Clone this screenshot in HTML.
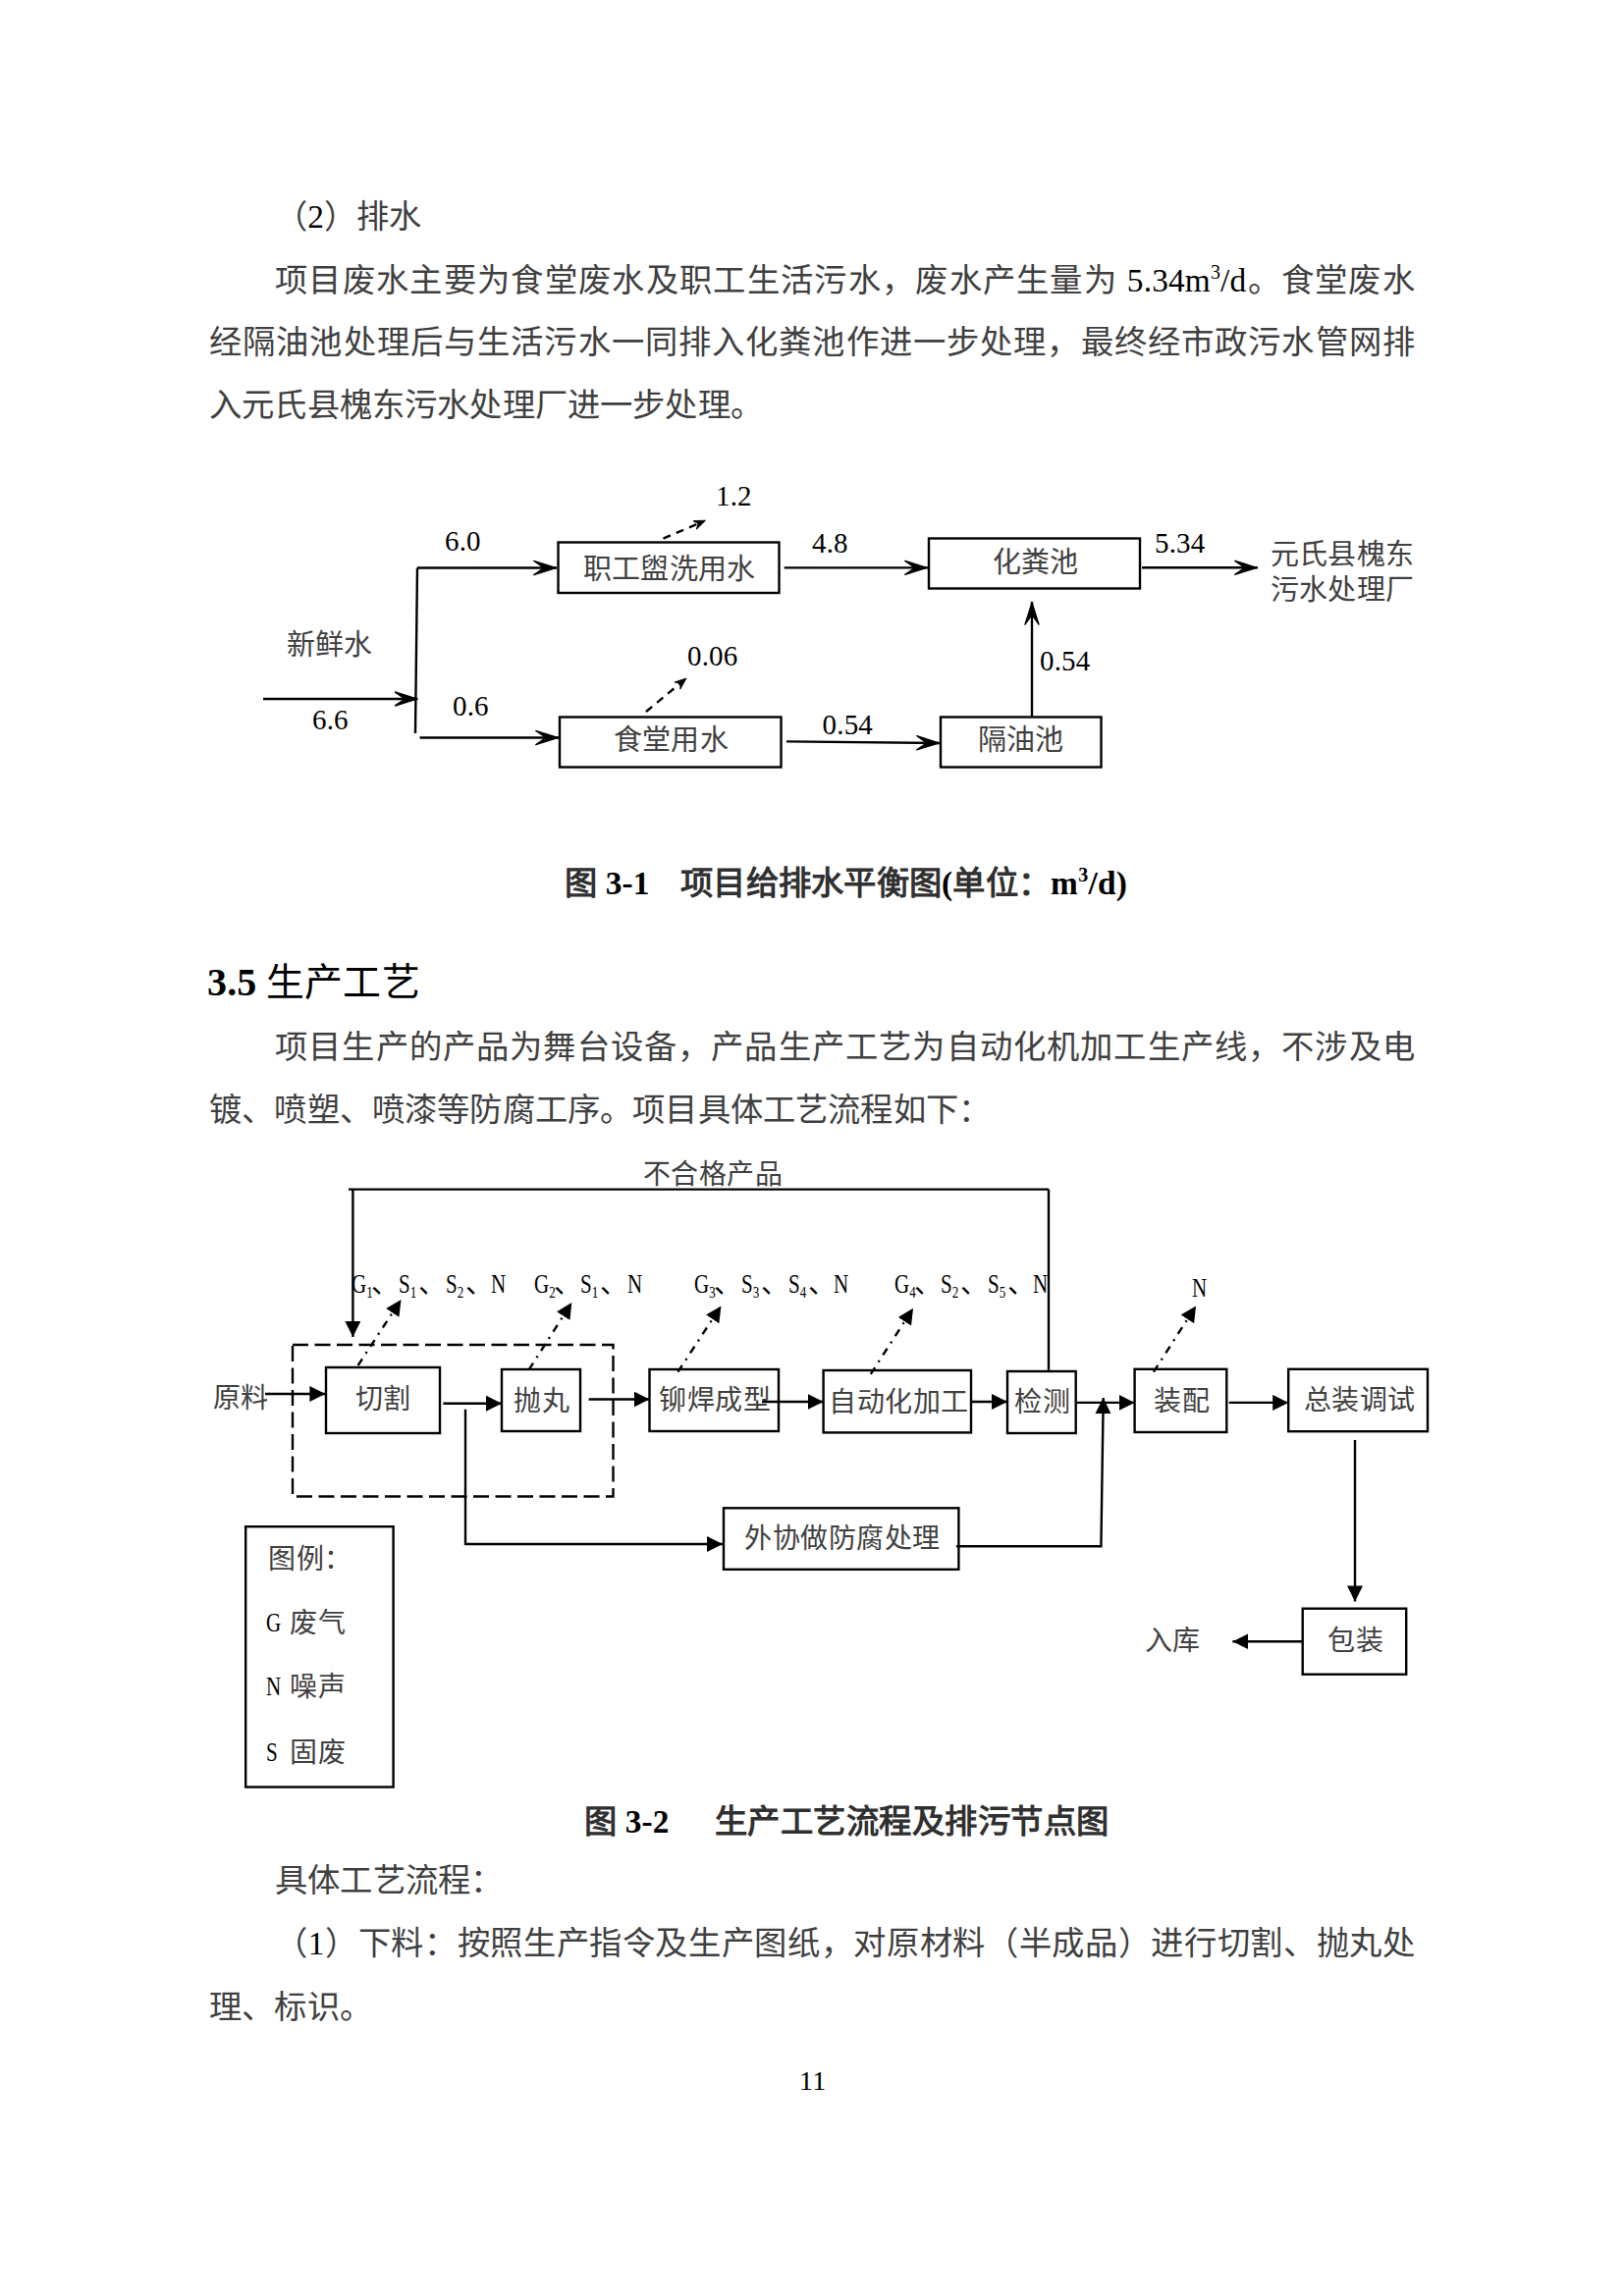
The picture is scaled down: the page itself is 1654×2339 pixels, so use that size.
<!DOCTYPE html>
<html lang="zh-CN"><head><meta charset="utf-8">
<style>
html,body{margin:0;padding:0;background:#fff;}
body{text-spacing-trim:space-all;width:1654px;height:2339px;position:relative;overflow:hidden;font-family:"Liberation Serif",serif;color:#000;}
.l{position:absolute;left:213px;width:1228px;font-size:33.33px;line-height:40px;height:40px;white-space:nowrap;color:#404040;letter-spacing:0.17px;}
.j{text-align:justify;text-align-last:justify;white-space:normal;}
.ij{left:280px;width:1161px;}
sup{font-size:60%;vertical-align:0;position:relative;top:-0.62em;}
.t{position:absolute;white-space:nowrap;color:#404040;letter-spacing:0.17px;}
.a{font-size:29px;line-height:29px;}
.n{color:#000;}
.lab{color:#000;}
.b{font-size:28px;line-height:28px;letter-spacing:0.5px;}
.cap{font-size:33.33px;line-height:33.33px;font-weight:bold;color:#303030;}
.k{color:#000;}
.lab{font-size:28px;line-height:28px;}
.lab i{font-style:normal;display:inline-block;transform:scaleX(.75);transform-origin:0 0;}
sub{font-size:62%;vertical-align:0;position:relative;top:0.3em;}
svg{position:absolute;left:0;top:0;}
</style></head><body>
<div class="l" style="top:201px;left:280px">（<span class="k">2</span>）排水</div>
<div class="l j ij" style="top:265.5px">项目废水主要为食堂废水及职工生活污水，废水产生量为 <span class="k">5.34m<sup>3</sup>/d</span>。食堂废水</div>
<div class="l j" style="top:329px">经隔油池处理后与生活污水一同排入化粪池作进一步处理，最终经市政污水管网排</div>
<div class="l" style="top:393px">入元氏县槐东污水处理厂进一步处理。</div>

<div class="t cap" style="left:575px;top:882.5px">图 <span class="k">3-1</span></div>
<div class="t cap" style="left:693px;top:882.5px;letter-spacing:0.25px">项目给排水平衡图<span class="k">(</span>单位：<span class="k">m<sup>3</sup>/d)</span></div>

<div class="t" style="left:211px;top:981px;font-size:40px;line-height:40px;font-weight:bold;color:#000">3.5</div>
<div class="t" style="left:271px;top:981.5px;font-size:38.9px;line-height:38.9px;color:#000">生产工艺</div>

<div class="l j ij" style="top:1046.5px">项目生产的产品为舞台设备，产品生产工艺为自动化机加工生产线，不涉及电</div>
<div class="l" style="top:1111px">镀、喷塑、喷漆等防腐工序。项目具体工艺流程如下：</div>

<div class="t cap" style="left:595px;top:1838.5px">图 <span class="k">3-2</span></div>
<div class="t cap" style="left:728px;top:1838.5px;letter-spacing:0.47px">生产工艺流程及排污节点图</div>

<div class="l" style="top:1896px;left:280px">具体工艺流程：</div>
<div class="l j ij" style="top:1959.5px">（<span class="k">1</span>）下料：按照生产指令及生产图纸，对原材料（半成品）进行切割、抛丸处</div>
<div class="l" style="top:2024.5px">理、标识。</div>

<div class="t" style="left:814px;top:2106px;font-size:28px;line-height:28px;color:#000">11</div>

<!-- diagram 1 text -->
<div class="t a n" style="left:729px;top:491px">1.2</div>
<div class="t a n" style="left:453px;top:537px">6.0</div>
<div class="t a" style="left:594px;top:565.5px">职工盥洗用水</div>
<div class="t a n" style="left:827px;top:539px">4.8</div>
<div class="t a" style="left:1011px;top:559px">化粪池</div>
<div class="t a n" style="left:1176px;top:539px">5.34</div>
<div class="t a" style="left:1294px;top:551px">元氏县槐东</div>
<div class="t a" style="left:1294px;top:587px">污水处理厂</div>
<div class="t a" style="left:292px;top:643px">新鲜水</div>
<div class="t a n" style="left:700px;top:654px">0.06</div>
<div class="t a n" style="left:1059px;top:659px">0.54</div>
<div class="t a n" style="left:318px;top:719px">6.6</div>
<div class="t a n" style="left:461px;top:705px">0.6</div>
<div class="t a n" style="left:837.6px;top:723.6px">0.54</div>
<div class="t a" style="left:625px;top:740px">食堂用水</div>
<div class="t a" style="left:996px;top:740px">隔油池</div>

<!-- diagram 2 text -->
<div class="t b" style="left:654.5px;top:1182.5px">不合格产品</div>
<div class="t b" style="left:216.6px;top:1411px">原料</div>
<div class="t b" style="left:361.6px;top:1412px">切割</div>
<div class="t b" style="left:523px;top:1413.6px">抛丸</div>
<div class="t b" style="left:671px;top:1413px">铆焊成型</div>
<div class="t b" style="left:844px;top:1414.6px">自动化加工</div>
<div class="t b" style="left:1033px;top:1414.6px">检测</div>
<div class="t b" style="left:1175px;top:1414px">装配</div>
<div class="t b" style="left:1327.6px;top:1413px">总装调试</div>
<div class="t b" style="left:758px;top:1554px">外协做防腐处理</div>
<div class="t b" style="left:1352px;top:1658px">包装</div>
<div class="t b" style="left:1165.7px;top:1658px">入库</div>
<div class="t b" style="left:273px;top:1574.5px">图例：</div>
<div class="t lab" style="left:271px;top:1639px"><i>G</i></div><div class="t b" style="left:295px;top:1640px">废气</div>
<div class="t lab" style="left:271px;top:1704px"><i>N</i></div><div class="t b" style="left:295px;top:1705px">噪声</div>
<div class="t lab" style="left:271px;top:1771px"><i>S</i></div><div class="t b" style="left:295px;top:1772px">固废</div>

<div class="t lab" style="left:357.6px;top:1294px"><i>G<sub>1</sub></i></div><div class="t lab" style="left:378px;top:1294px">、</div>
<div class="t lab" style="left:406px;top:1294px"><i>S<sub>1</sub></i></div><div class="t lab" style="left:426px;top:1294px">、</div>
<div class="t lab" style="left:453.8px;top:1294px"><i>S<sub>2</sub></i></div><div class="t lab" style="left:474px;top:1294px">、</div>
<div class="t lab" style="left:500px;top:1294px"><i>N</i></div>

<div class="t lab" style="left:544px;top:1294px"><i>G<sub>2</sub></i></div><div class="t lab" style="left:564px;top:1294px">、</div>
<div class="t lab" style="left:591px;top:1294px"><i>S<sub>1</sub></i></div><div class="t lab" style="left:611px;top:1294px">、</div>
<div class="t lab" style="left:638.7px;top:1294px"><i>N</i></div>

<div class="t lab" style="left:707px;top:1294px"><i>G<sub>3</sub></i></div><div class="t lab" style="left:727px;top:1294px">、</div>
<div class="t lab" style="left:755px;top:1294px"><i>S<sub>3</sub></i></div><div class="t lab" style="left:775px;top:1294px">、</div>
<div class="t lab" style="left:803px;top:1294px"><i>S<sub>4</sub></i></div><div class="t lab" style="left:823px;top:1294px">、</div>
<div class="t lab" style="left:849px;top:1294px"><i>N</i></div>

<div class="t lab" style="left:910.6px;top:1294px"><i>G<sub>4</sub></i></div><div class="t lab" style="left:931px;top:1294px">、</div>
<div class="t lab" style="left:958px;top:1294px"><i>S<sub>2</sub></i></div><div class="t lab" style="left:978px;top:1294px">、</div>
<div class="t lab" style="left:1006px;top:1294px"><i>S<sub>5</sub></i></div><div class="t lab" style="left:1026px;top:1294px">、</div>
<div class="t lab" style="left:1052px;top:1294px"><i>N</i></div>

<div class="t lab" style="left:1214px;top:1298px"><i>N</i></div>

<svg width="1654" height="2339" viewBox="0 0 1654 2339">
<defs>
<marker id="st" markerUnits="userSpaceOnUse" markerWidth="30" markerHeight="20" refX="24" refY="8" orient="auto" viewBox="0 0 30 20"><path d="M0.8,1 L23,8 L0.8,15 L11,8 Z" fill="#000" stroke="#000" stroke-width="1.4" stroke-linejoin="round"/></marker>
<marker id="st2" markerUnits="userSpaceOnUse" markerWidth="16" markerHeight="14" refX="4" refY="5" orient="auto" viewBox="0 0 16 14"><path d="M0,0.3 L12,5 L0,9.7 L4,5 Z" fill="#000" stroke="#000" stroke-width="0.8"/></marker>
<marker id="tr" markerUnits="userSpaceOnUse" markerWidth="20" markerHeight="20" refX="16" refY="8" orient="auto" viewBox="0 0 20 20"><path d="M0,0 L16,8 L0,16 Z" fill="#000"/></marker>
</defs>
<g fill="none" stroke="#000" stroke-width="2.4">
<!-- diagram 1 -->
<rect x="568.5" y="552.5" width="225" height="51.5"/>
<rect x="946" y="548.5" width="215" height="51"/>
<rect x="570" y="730.5" width="225.5" height="51"/>
<rect x="958" y="730.5" width="163.5" height="51"/>
<path d="M268,712 H425.5" marker-end="url(#st)"/>
<path d="M425,578.5 L423,747"/>
<path d="M425,578.5 H567" marker-end="url(#st)"/>
<path d="M427.5,751.5 H569" marker-end="url(#st)"/>
<path d="M798.7,578.4 H945" marker-end="url(#st)"/>
<path d="M1163,578.3 H1281" marker-end="url(#st)"/>
<path d="M801,755.4 L957,757" marker-end="url(#st)"/>
<path d="M1051,730 V613" marker-end="url(#st)"/>
<path d="M675.5,548.6 L711.15,533.35" stroke-dasharray="8 6.4" marker-end="url(#st2)"/>
<path d="M658,725 L692.84,696.1" stroke-dasharray="8 6.4" marker-end="url(#st2)"/>

<!-- diagram 2 -->
<path d="M355,1211.6 H1068"/>
<path d="M359.4,1211.6 V1362" marker-end="url(#tr)"/>
<path d="M1068,1211.6 V1397"/>
<rect x="298" y="1370" width="326.5" height="154.5" stroke-dasharray="16 6.5"/>
<rect x="332" y="1393" width="116" height="67"/>
<rect x="511" y="1395" width="80" height="63"/>
<rect x="661.5" y="1395" width="131.5" height="63"/>
<rect x="838.6" y="1396" width="150.4" height="63.4"/>
<rect x="1026" y="1397" width="69.7" height="63"/>
<rect x="1155.6" y="1394.8" width="93.7" height="64.2"/>
<rect x="1312.2" y="1394.8" width="141.8" height="63.4"/>
<rect x="737" y="1536.3" width="239.4" height="62.5"/>
<rect x="1326.7" y="1638.7" width="105.5" height="67"/>
<rect x="250.2" y="1555.2" width="150.4" height="265.3"/>
<path d="M270,1420 H331.4" marker-end="url(#tr)"/>
<path d="M451.4,1429.7 H511" marker-end="url(#tr)"/>
<path d="M474,1435.7 V1574"/>
<path d="M474,1573 H736" marker-end="url(#tr)"/>
<path d="M599.6,1425.5 H661.5" marker-end="url(#tr)"/>
<path d="M776,1428 H838.6" marker-end="url(#tr)"/>
<path d="M989,1428 H1026" marker-end="url(#tr)"/>
<path d="M1096,1428.9 H1155.6" marker-end="url(#tr)"/>
<path d="M974,1575.3 H1121.4 L1123.7,1424" marker-end="url(#tr)"/>
<path d="M1251.7,1428.9 H1312.2" marker-end="url(#tr)"/>
<path d="M1380,1467 V1631.4" marker-end="url(#tr)"/>
<path d="M1326.7,1672.2 H1255.4" marker-end="url(#tr)"/>
<g stroke-dasharray="8 6.5 2 6.5">
<path d="M364.6,1391 L408.5,1324" marker-end="url(#tr)"/>
<path d="M538.7,1395.4 L582.3,1327.1" marker-end="url(#tr)"/>
<path d="M690.4,1397.7 L734.4,1330.4" marker-end="url(#tr)"/>
<path d="M886.8,1399.8 L930,1332.8" marker-end="url(#tr)"/>
<path d="M1174.9,1397.7 L1218,1330.4" marker-end="url(#tr)"/>
</g>
</g>
</svg>
</body></html>
